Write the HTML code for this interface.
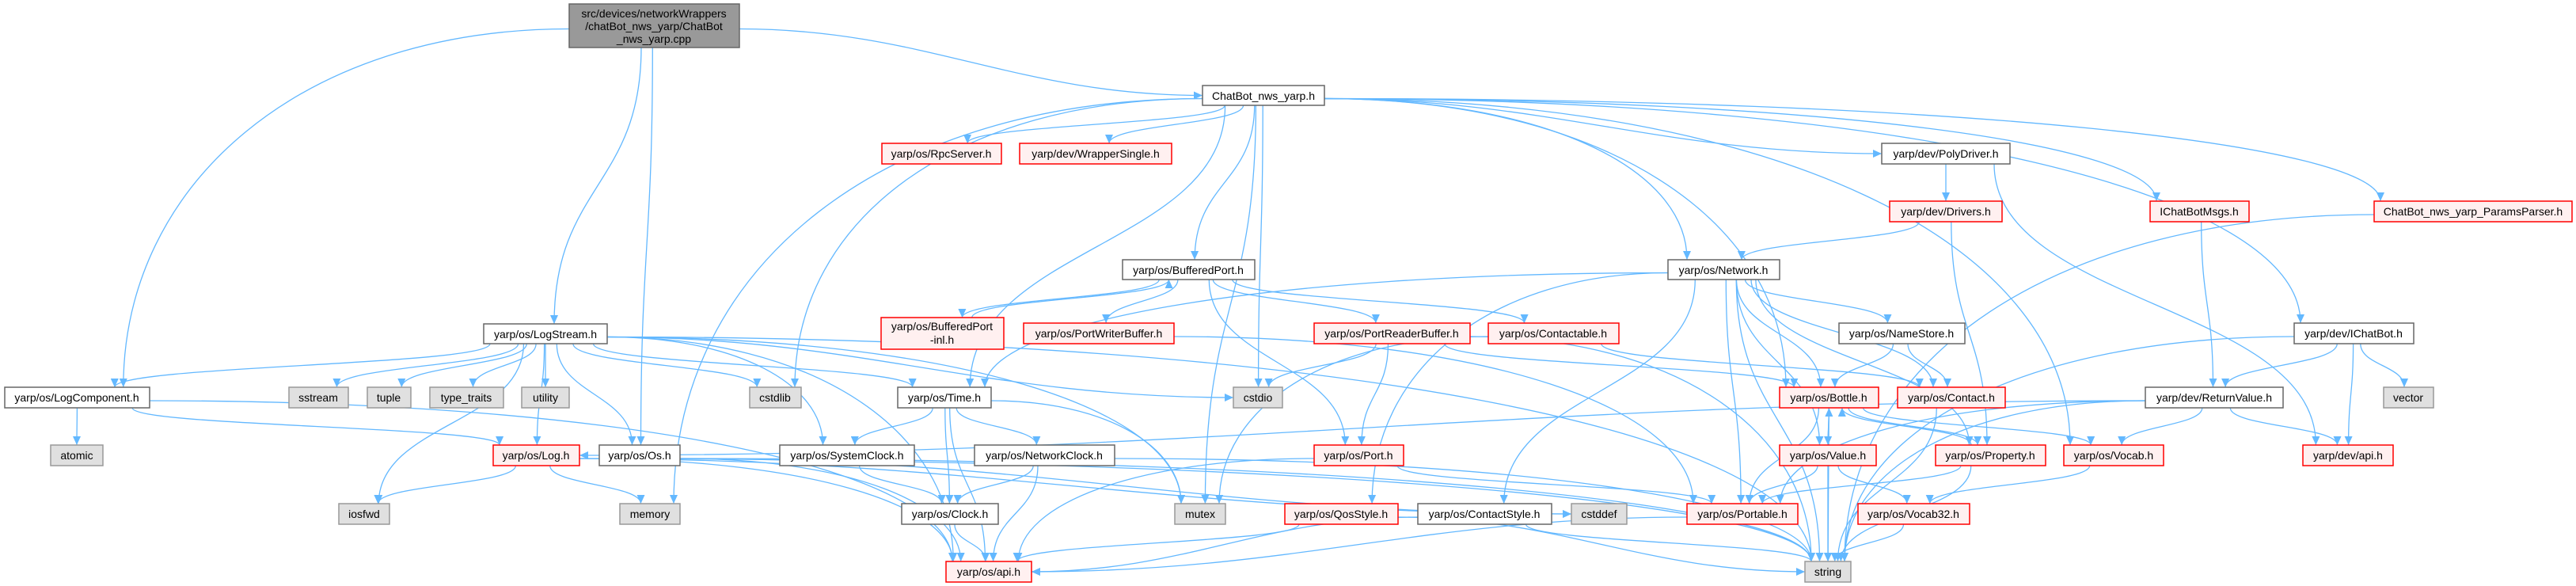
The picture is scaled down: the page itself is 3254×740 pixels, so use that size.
<!DOCTYPE html>
<html><head><meta charset="utf-8">
<style>
html,body{margin:0;padding:0;background:#fff;}
svg{display:block;}
text{font-family:"Liberation Sans",sans-serif;font-size:14px;fill:#000;text-anchor:middle;}
.n rect{fill:#fff;stroke:#666;stroke-width:1.5;}
.r rect{fill:#fff0f0;stroke:#f00;stroke-width:1.5;}
.s rect{fill:#e0e0e0;stroke:#999;stroke-width:1.5;}
.m rect{fill:#999;stroke:#666;stroke-width:1.5;}
#edges path.e{fill:none;stroke:#63b8ff;stroke-width:1.3;}
</style></head><body>
<svg id="g" width="3254" height="740" viewBox="0 0 3254 740" xmlns="http://www.w3.org/2000/svg">
<defs><marker id="a" markerUnits="userSpaceOnUse" markerWidth="12" markerHeight="10" refX="11" refY="5" orient="auto"><path d="M0,0 L11,5 L0,10 Z" fill="#63b8ff"/></marker></defs>
<g id="edges"></g>
<g id="nodes">
<g class="m"><rect x="719" y="5" width="215" height="55"/><text x="826" y="22">src/devices/networkWrappers</text><text x="826" y="38">/chatBot_nws_yarp/ChatBot</text><text x="826" y="54">_nws_yarp.cpp</text></g>
<g class="n"><rect x="1519" y="108" width="154" height="25"/><text x="1596" y="126">ChatBot_nws_yarp.h</text></g>
<g class="r"><rect x="1114" y="181" width="151" height="26"/><text x="1189" y="199">yarp/os/RpcServer.h</text></g>
<g class="r"><rect x="1288" y="181" width="192" height="26"/><text x="1384" y="199">yarp/dev/WrapperSingle.h</text></g>
<g class="n"><rect x="2377" y="181" width="162" height="26"/><text x="2458" y="199">yarp/dev/PolyDriver.h</text></g>
<g class="r"><rect x="2387" y="254" width="142" height="26"/><text x="2458" y="272">yarp/dev/Drivers.h</text></g>
<g class="r"><rect x="2716" y="254" width="125" height="26"/><text x="2778" y="272">IChatBotMsgs.h</text></g>
<g class="r"><rect x="2999" y="254" width="250" height="26"/><text x="3124" y="272">ChatBot_nws_yarp_ParamsParser.h</text></g>
<g class="n"><rect x="1418" y="328" width="167" height="25"/><text x="1501" y="346">yarp/os/BufferedPort.h</text></g>
<g class="n"><rect x="2107" y="328" width="141" height="25"/><text x="2177" y="346">yarp/os/Network.h</text></g>
<g class="r"><rect x="1113" y="401" width="155" height="40"/><text x="1190" y="417">yarp/os/BufferedPort</text><text x="1190" y="434">-inl.h</text></g>
<g class="r"><rect x="1293" y="408" width="190" height="26"/><text x="1388" y="426">yarp/os/PortWriterBuffer.h</text></g>
<g class="r"><rect x="1660" y="408" width="197" height="26"/><text x="1758" y="426">yarp/os/PortReaderBuffer.h</text></g>
<g class="r"><rect x="1880" y="408" width="165" height="26"/><text x="1962" y="426">yarp/os/Contactable.h</text></g>
<g class="n"><rect x="2323" y="408" width="159" height="26"/><text x="2402" y="426">yarp/os/NameStore.h</text></g>
<g class="n"><rect x="2898" y="408" width="151" height="26"/><text x="2973" y="426">yarp/dev/IChatBot.h</text></g>
<g class="n"><rect x="611" y="409" width="156" height="25"/><text x="689" y="427">yarp/os/LogStream.h</text></g>
<g class="n"><rect x="6" y="489" width="183" height="26"/><text x="97" y="507">yarp/os/LogComponent.h</text></g>
<g class="s"><rect x="365" y="489" width="75" height="26"/><text x="402" y="507">sstream</text></g>
<g class="s"><rect x="464" y="489" width="55" height="26"/><text x="491" y="507">tuple</text></g>
<g class="s"><rect x="543" y="489" width="93" height="26"/><text x="589" y="507">type_traits</text></g>
<g class="s"><rect x="659" y="489" width="60" height="26"/><text x="689" y="507">utility</text></g>
<g class="s"><rect x="947" y="489" width="65" height="26"/><text x="979" y="507">cstdlib</text></g>
<g class="n"><rect x="1134" y="489" width="118" height="26"/><text x="1193" y="507">yarp/os/Time.h</text></g>
<g class="s"><rect x="1558" y="489" width="62" height="26"/><text x="1589" y="507">cstdio</text></g>
<g class="r"><rect x="2248" y="489" width="125" height="26"/><text x="2310" y="507">yarp/os/Bottle.h</text></g>
<g class="r"><rect x="2397" y="489" width="136" height="26"/><text x="2465" y="507">yarp/os/Contact.h</text></g>
<g class="n"><rect x="2710" y="489" width="174" height="26"/><text x="2797" y="507">yarp/dev/ReturnValue.h</text></g>
<g class="s"><rect x="3011" y="489" width="63" height="26"/><text x="3042" y="507">vector</text></g>
<g class="s"><rect x="64" y="562" width="66" height="26"/><text x="97" y="580">atomic</text></g>
<g class="r"><rect x="623" y="562" width="109" height="26"/><text x="677" y="580">yarp/os/Log.h</text></g>
<g class="n"><rect x="757" y="562" width="102" height="26"/><text x="808" y="580">yarp/os/Os.h</text></g>
<g class="n"><rect x="985" y="562" width="170" height="26"/><text x="1070" y="580">yarp/os/SystemClock.h</text></g>
<g class="n"><rect x="1231" y="562" width="177" height="26"/><text x="1319" y="580">yarp/os/NetworkClock.h</text></g>
<g class="r"><rect x="1660" y="562" width="113" height="26"/><text x="1716" y="580">yarp/os/Port.h</text></g>
<g class="r"><rect x="2248" y="562" width="122" height="26"/><text x="2309" y="580">yarp/os/Value.h</text></g>
<g class="r"><rect x="2445" y="562" width="139" height="26"/><text x="2514" y="580">yarp/os/Property.h</text></g>
<g class="r"><rect x="2607" y="562" width="126" height="26"/><text x="2670" y="580">yarp/os/Vocab.h</text></g>
<g class="r"><rect x="2909" y="562" width="114" height="26"/><text x="2966" y="580">yarp/dev/api.h</text></g>
<g class="s"><rect x="428" y="636" width="64" height="26"/><text x="460" y="654">iosfwd</text></g>
<g class="s"><rect x="783" y="636" width="76" height="26"/><text x="821" y="654">memory</text></g>
<g class="n"><rect x="1139" y="636" width="122" height="26"/><text x="1200" y="654">yarp/os/Clock.h</text></g>
<g class="s"><rect x="1484" y="636" width="64" height="26"/><text x="1516" y="654">mutex</text></g>
<g class="r"><rect x="1623" y="636" width="143" height="26"/><text x="1694" y="654">yarp/os/QosStyle.h</text></g>
<g class="n"><rect x="1791" y="636" width="169" height="26"/><text x="1875" y="654">yarp/os/ContactStyle.h</text></g>
<g class="s"><rect x="1985" y="636" width="70" height="26"/><text x="2020" y="654">cstddef</text></g>
<g class="r"><rect x="2131" y="636" width="140" height="26"/><text x="2201" y="654">yarp/os/Portable.h</text></g>
<g class="r"><rect x="2347" y="636" width="141" height="26"/><text x="2417" y="654">yarp/os/Vocab32.h</text></g>
<g class="r"><rect x="1195" y="709" width="108" height="26"/><text x="1249" y="727">yarp/os/api.h</text></g>
<g class="s"><rect x="2280" y="709" width="58" height="26"/><text x="2309" y="727">string</text></g>
</g>
</svg>
<script>
(function(){
var N={main:[719,934,5,60],ChatBot:[1519,1673,108,133],RpcServer:[1114,1265,181,207],WrapperSingle:[1288,1480,181,207],PolyDriver:[2377,2539,181,207],Drivers:[2387,2529,254,280],IChatBotMsgs:[2716,2841,254,280],ParamsParser:[2999,3249,254,280],BufferedPort:[1418,1585,328,353],Network:[2107,2248,328,353],BPinl:[1113,1268,401,441],PortWriterBuffer:[1293,1483,408,434],PortReaderBuffer:[1660,1857,408,434],Contactable:[1880,2045,408,434],NameStore:[2323,2482,408,434],IChatBot:[2898,3049,408,434],LogStream:[611,767,409,434],LogComponent:[6,189,489,515],sstream:[365,440,489,515],tuple:[464,519,489,515],type_traits:[543,636,489,515],utility:[659,719,489,515],cstdlib:[947,1012,489,515],Time:[1134,1252,489,515],cstdio:[1558,1620,489,515],Bottle:[2248,2373,489,515],Contact:[2397,2533,489,515],ReturnValue:[2710,2884,489,515],vector:[3011,3074,489,515],atomic:[64,130,562,588],Log:[623,732,562,588],Os:[757,859,562,588],SystemClock:[985,1155,562,588],NetworkClock:[1231,1408,562,588],Port:[1660,1773,562,588],Value:[2248,2370,562,588],Property:[2445,2584,562,588],Vocab:[2607,2733,562,588],devapi:[2909,3023,562,588],iosfwd:[428,492,636,662],memory:[783,859,636,662],Clock:[1139,1261,636,662],mutex:[1484,1548,636,662],QosStyle:[1623,1766,636,662],ContactStyle:[1791,1960,636,662],cstddef:[1985,2055,636,662],Portable:[2131,2271,636,662],Vocab32:[2347,2488,636,662],osapi:[1195,1303,709,735],string:[2280,2338,709,735]};
var E={main:"LogComponent LogStream Os ChatBot",ChatBot:"RpcServer WrapperSingle BufferedPort Network PolyDriver IChatBotMsgs ParamsParser IChatBot Bottle Vocab cstdio cstdlib memory mutex Time",LogStream:"LogComponent sstream tuple type_traits utility cstdlib Log Os SystemClock Time cstdio iosfwd string osapi mutex",LogComponent:"atomic Log osapi",Log:"iosfwd memory osapi cstddef string",Os:"osapi string cstddef",Time:"SystemClock NetworkClock Clock osapi mutex",SystemClock:"Clock",NetworkClock:"Clock osapi string",Clock:"osapi",BufferedPort:"BPinl PortWriterBuffer PortReaderBuffer Contactable Port",BPinl:"BufferedPort",PortWriterBuffer:"Portable",PortReaderBuffer:"cstdio Port string Bottle",Contactable:"mutex Contact",Port:"osapi Portable",Network:"Time NameStore Contact Bottle Value Property Portable QosStyle ContactStyle string",NameStore:"Bottle Contact",Bottle:"Value Property Vocab Portable string",Value:"Bottle Portable Vocab32 string",Property:"Bottle Portable string",Vocab:"Vocab32",Vocab32:"string",Contact:"string",QosStyle:"osapi string",ContactStyle:"osapi string",Portable:"osapi",PolyDriver:"Drivers devapi",Drivers:"Network Property",IChatBotMsgs:"ReturnValue",IChatBot:"ReturnValue devapi vector string",ReturnValue:"Log Vocab devapi Portable string",ParamsParser:"string"};
function cl(v,a,b){return Math.max(a,Math.min(b,v));}
function f(v){return v.toFixed(1);}
var g=document.getElementById("edges"),out="";
for(var s in E){E[s].split(" ").forEach(function(t){
 var S=N[s],T=N[t];var scx=(S[0]+S[1])/2,tcx=(T[0]+T[1])/2;
 var sw=(S[1]-S[0])/2-8,tw=(T[1]-T[0])/2-8;
 var d;
 var down=T[2]>=S[3];
 var gap=down?T[2]-S[3]:0;
 var hsep=Math.abs(tcx-scx)-(S[1]-S[0])/2-(T[1]-T[0])/2;
 var dir=tcx>scx?1:-1;
 if(down && gap<60 && hsep>10*gap){
   var sx=dir>0?S[1]:S[0], sy=(S[2]+S[3])/2+4;
   var tx=dir>0?T[0]:T[1], ty=(T[2]+T[3])/2;
   d='M'+sx+' '+sy+' C'+f(sx+dir*hsep*0.4)+' '+sy+' '+f(tx-dir*hsep*0.4)+' '+ty+' '+tx+' '+ty;
 }else if(down && gap>=100 && hsep>1.2*gap){
   var sx=dir>0?S[1]:S[0], sy=(S[2]+S[3])/2+4;
   var tx=tcx+cl((scx-tcx)*0.08,-tw,tw), ty=T[2];
   d='M'+sx+' '+sy+' C'+f(sx+(tx-sx)*0.6)+' '+sy+' '+f(tx)+' '+f(ty-gap*0.6)+' '+f(tx)+' '+ty;
 }else{
   var sx=scx+cl((tcx-scx)*0.12,-sw,sw),tx=tcx+cl((scx-tcx)*0.08,-tw,tw);
   var sy,ty;
   if(down){sy=S[3];ty=T[2];}else{sy=S[2];ty=T[3];}
   var dy=(ty-sy)*0.5;
   d='M'+f(sx)+' '+sy+' C'+f(sx)+' '+f(sy+dy)+' '+f(tx)+' '+f(ty-dy)+' '+f(tx)+' '+ty;
 }
 out+='<path class="e" marker-end="url(#a)" d="'+d+'"/>';
});}
g.innerHTML=out;
})();
</script>
</body></html>
